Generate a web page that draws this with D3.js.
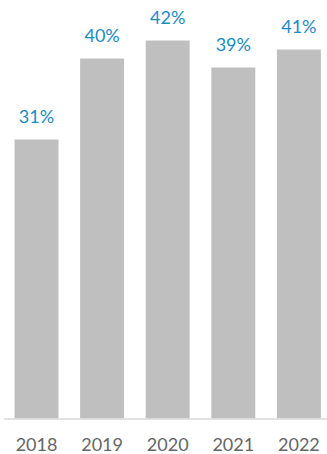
<!DOCTYPE html>
<html>
<head>
<meta charset="utf-8">
<script src="https://cdn.jsdelivr.net/npm/d3@7"></script>
<style>
  html, body { margin: 0; padding: 0; background: #fff; }
  svg { display: block; }
</style>
</head>
<body>
<svg id="chart" width="327" height="454"></svg>
<script>
// Share by year, in percent
const years = ["2018", "2019", "2020", "2021", "2022"];
const shares = [31, 40, 42, 39, 41];

const width = 327, height = 454;
const baseY = 418.5;

const svg = d3.select("#chart");

const x = d3.scaleBand()
  .domain(years)
  .range([3.7, 331.7])
  .paddingInner(0.33)
  .paddingOuter(0.165);

const y = d3.scaleLinear()
  .domain([0, 46.5])
  .range([baseY, 0]);

const data = years.map((yr, i) => ({ year: yr, value: shares[i] }));

// Bars
svg.append("g")
  .selectAll("rect")
  .data(data)
  .join("rect")
  .attr("x", d => x(d.year))
  .attr("y", d => y(d.value))
  .attr("width", x.bandwidth())
  .attr("height", d => y(0) - y(d.value))
  .attr("fill", "#BFBFBF");

// Value labels above each bar
svg.append("g")
  .selectAll("text")
  .data(data)
  .join("text")
  .attr("x", d => x(d.year) + x.bandwidth() / 2)
  .attr("y", d => y(d.value) - 17)
  .attr("text-anchor", "middle")
  .attr("font-family", "Lato, sans-serif")
  .attr("font-size", 18)
  .attr("fill", "#1B8BC3")
  .text(d => d.value + "%");

// Category axis with a light baseline
const axis = svg.append("g")
  .attr("transform", `translate(0,${baseY})`)
  .call(d3.axisBottom(x).tickSize(0).tickSizeOuter(0));

axis.select(".domain")
  .attr("stroke", "#D9D9D9")
  .attr("stroke-width", 1.5);

axis.selectAll(".tick text")
  .attr("y", 32.5)
  .attr("dy", 0)
  .attr("font-family", "Lato, sans-serif")
  .attr("font-size", 18)
  .attr("fill", "#666666");
</script>
</body>
</html>
